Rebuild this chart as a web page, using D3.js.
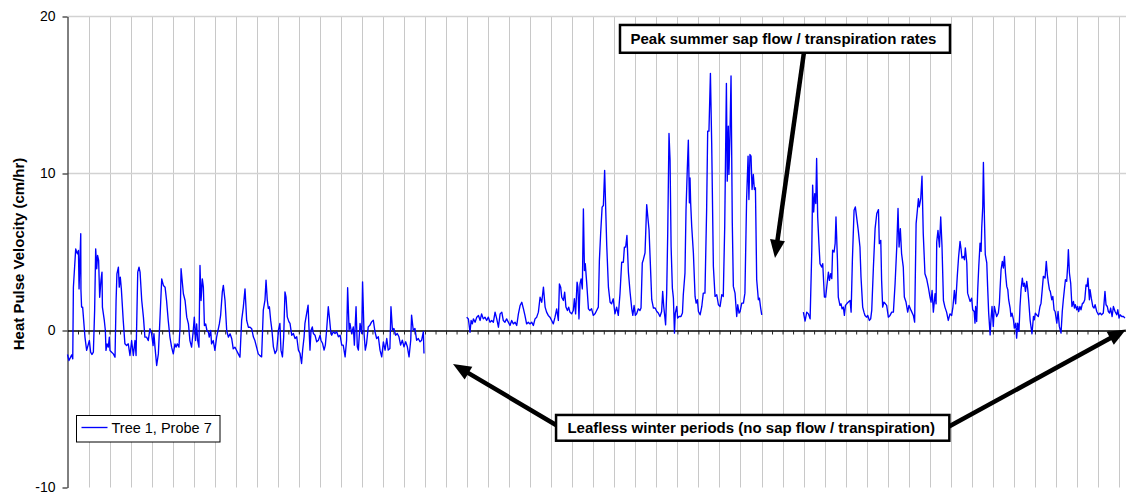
<!DOCTYPE html>
<html lang="en">

<head>
    <meta charset="UTF-8">
    <title>Heat pulse velocity</title>
    <script src="https://d3js.org/d3.v7.min.js"></script>
    <style>
        body { margin: 0; background: #fff; }
        text { font-family: "Liberation Sans", Arial, sans-serif; }
    </style>
</head>

<body>
    <script>
        // days since start of record, heat pulse velocity (cm/hr)
        var winterDay = [0.00, 0.07, 0.20, 0.25, 0.28, 0.39, 0.47, 0.52, 0.55, 0.63, 0.64, 0.67, 0.72, 0.83, 0.91, 1.04, 1.10, 1.16, 1.23, 1.29,
            1.34, 1.39, 1.43, 1.48, 1.53, 1.59, 1.64, 1.66, 1.75, 1.80, 1.83, 1.88, 1.94, 1.99, 2.02, 2.10, 2.18, 2.26, 2.31, 2.35,
            2.42, 2.46, 2.51, 2.56, 2.65, 2.73, 2.81, 2.89, 2.97, 3.05, 3.13, 3.21, 3.26, 3.34, 3.40, 3.45, 3.53, 3.61, 3.68, 3.76,
            3.84, 3.92, 4.00, 4.07, 4.11, 4.16, 4.24, 4.32, 4.40, 4.48, 4.56, 4.64, 4.71, 4.79, 4.87, 4.95, 5.03, 5.11, 5.16, 5.22,
            5.30, 5.35, 5.40, 5.51, 5.59, 5.67, 5.75, 5.82, 5.90, 5.98, 6.03, 6.09, 6.14, 6.19, 6.25, 6.30, 6.35, 6.41, 6.46, 6.51,
            6.57, 6.63, 6.70, 6.74, 6.81, 6.85, 6.93, 7.01, 7.09, 7.22, 7.28, 7.36, 7.41, 7.49, 7.57, 7.65, 7.73, 7.81, 7.88, 7.96,
            8.04, 8.12, 8.20, 8.28, 8.36, 8.44, 8.52, 8.60, 8.68, 8.76, 8.84, 8.91, 8.99, 9.07, 9.15, 9.23, 9.31, 9.39, 9.44, 9.50,
            9.55, 9.60, 9.66, 9.72, 9.79, 9.87, 9.95, 10.03, 10.10, 10.15, 10.22, 10.28, 10.34, 10.39, 10.45, 10.53, 10.58, 10.66, 10.74, 10.82,
            10.90, 10.98, 11.06, 11.13, 11.18, 11.25, 11.29, 11.37, 11.44, 11.48, 11.53, 11.58, 11.64, 11.69, 11.77, 11.85, 11.93, 12.01, 12.05, 12.13,
            12.20, 12.26, 12.32, 12.40, 12.45, 12.51, 12.56, 12.64, 12.72, 12.80, 12.88, 12.96, 13.04, 13.11, 13.20, 13.27, 13.32, 13.39, 13.43, 13.51,
            13.59, 13.64, 13.72, 13.78, 13.83, 13.91, 13.99, 14.03, 14.10, 14.16, 14.22, 14.30, 14.38, 14.46, 14.54, 14.62, 14.70, 14.78, 14.86, 14.94,
            15.02, 15.10, 15.18, 15.25, 15.33, 15.38, 15.45, 15.52, 15.60, 15.68, 15.76, 15.84, 15.92, 16.00, 16.08, 16.16, 16.24, 16.32, 16.36, 16.44,
            16.52, 16.60, 16.68, 16.76, 16.84, 16.92, 16.95];
        var winterVel = [-1.53, -1.91, -1.55, -1.80, 2.76, 5.20, 4.88, 5.10, 2.65, 6.16, 2.55, 1.49, 1.49, -0.42, -1.27, -0.64, -1.38, -1.53, -1.38, 1.27,
            5.20, 3.93, 4.78, 4.46, 2.12, 3.18, 3.72, 1.49, 0.64, 0.00, -1.27, -0.85, -1.06, -0.42, -1.27, -1.38, -1.49, -1.70, 1.91, 3.61,
            4.03, 2.76, 3.40, 2.65, 0.64, -0.85, -0.96, -0.85, -1.59, -0.64, -1.59, -0.64, -1.59, 3.72, 4.03, 3.72, 1.91, 0.85, -0.42, -0.42,
            -0.64, 0.11, -0.21, -0.96, -0.21, -1.06, -2.23, -1.49, 0.85, 3.29, 2.87, 2.76, 1.91, 0.64, -0.42, -1.06, -1.49, -0.85, -1.06, -0.85,
            -1.06, 0.21, 3.93, 2.34, 1.91, 0.85, 0.42, -0.64, -1.06, 0.00, 0.85, -0.64, 0.42, -0.64, -1.06, 4.14, 1.91, 3.29, 2.76, 0.32,
            0.42, 0.00, -0.11, -0.42, 0.00, -0.85, -0.64, -1.27, -0.42, 0.42, 0.96, 2.44, 2.87, 1.91, 0.00, -0.42, -0.21, -0.53, -1.17, -1.06,
            -1.27, -1.49, -1.70, 0.64, 1.49, 2.65, 0.64, 0.21, 0.21, 0.11, -0.42, -0.64, -1.06, -1.49, -1.60, -1.68, 1.30, 1.93, 3.21, 1.93,
            1.40, 1.51, 0.66, 0.02, -1.04, -1.47, -1.25, 0.02, 0.45, -1.25, -1.68, -0.40, 2.46, 2.14, 0.87, 0.55, 0.45, -0.30, -0.19, -0.51,
            -0.40, -1.25, -1.47, -2.10, -1.25, -0.40, 0.45, 1.08, 1.61, 0.23, -1.25, 0.02, 0.23, -0.19, -0.30, -0.72, -0.62, -0.30, -0.62, -0.83,
            -1.25, -0.93, 0.02, 1.51, 0.87, 0.02, -0.30, -0.08, -0.19, -0.08, -0.40, -0.30, -0.93, -0.93, -1.68, -0.62, 2.72, 0.02, 0.45, -0.19,
            0.23, -0.93, 1.51, -1.04, -1.25, 0.45, -0.19, 3.10, -0.19, -1.25, -0.83, 0.23, 0.34, 0.55, 0.66, -0.08, -0.51, -0.40, -1.25, -1.68,
            -0.72, -1.25, -0.51, -1.25, -1.15, 1.51, 0.02, 0.13, -0.30, -0.19, -0.40, -0.93, -0.62, -1.04, -0.72, -1.04, -1.68, -0.62, 0.98, 0.02,
            0.13, -0.62, -0.51, -0.72, -0.62, -0.08, -1.47];

        var springDay = [18.98, 19.06, 19.14, 19.19, 19.25, 19.30, 19.38, 19.46, 19.54, 19.62, 19.69, 19.77, 19.85, 19.93, 20.01, 20.09, 20.17, 20.25, 20.33, 20.41,
            20.49, 20.57, 20.65, 20.72, 20.80, 20.88, 20.96, 21.04, 21.12, 21.20, 21.28, 21.36, 21.44, 21.52, 21.60, 21.68, 21.75, 21.83, 21.91, 21.99,
            22.07, 22.15, 22.23, 22.31, 22.39, 22.47, 22.55, 22.63, 22.71, 22.78, 22.86, 22.94, 23.02, 23.10, 23.18, 23.26, 23.34, 23.39, 23.45, 23.50,
            23.58, 23.64, 23.70, 23.77, 23.83, 23.89, 23.97, 24.05, 24.10, 24.16, 24.23, 24.27, 24.32, 24.37, 24.42, 24.48, 24.53, 24.58, 24.62, 24.69,
            24.77, 24.84, 24.92, 25.00, 25.08, 25.16, 25.24, 25.29, 25.35, 25.42, 25.48, 25.54, 25.64, 25.72, 25.80, 25.87, 25.95, 26.03, 26.11, 26.19,
            26.27, 26.35, 26.43, 26.48, 26.54, 26.60, 26.67, 26.75, 26.83, 26.88, 26.94, 27.00, 27.06, 27.14, 27.22, 27.27, 27.33, 27.38, 27.46, 27.54,
            27.59, 27.65, 27.70, 27.78, 27.86, 27.94, 28.02, 28.09, 28.17, 28.25, 28.30, 28.35, 28.40, 28.44, 28.49, 28.54, 28.60, 28.65, 28.70, 28.76,
            28.81, 28.86, 28.90, 28.97, 29.01, 29.08, 29.17, 29.24, 29.28, 29.36, 29.41, 29.47, 29.52, 29.57, 29.60, 29.63, 29.68, 29.76, 29.84, 29.89,
            29.95, 30.00, 30.08, 30.16, 30.23, 30.31, 30.39, 30.44, 30.50, 30.57, 30.63, 30.71, 30.79, 30.87, 30.95, 31.03, 31.11, 31.18, 31.25, 31.33,
            31.37, 31.42, 31.45, 31.50, 31.55, 31.61, 31.66, 31.74, 31.82, 31.87, 31.93, 31.98, 32.06, 32.14, 32.21, 32.29, 32.36, 32.40, 32.45, 32.50,
            32.55, 32.61, 32.66, 32.71, 32.77, 32.85, 32.90, 32.96, 33.01];
        var springVel = [0.85, 0.74, -0.11, 0.64, 0.42, 0.74, 0.53, 0.85, 0.96, 0.64, 1.06, 0.74, 0.85, 0.64, 0.85, 0.53, 0.64, 0.53, 1.17, 0.74,
            0.21, 1.06, 1.17, 0.64, 0.53, 0.74, 0.53, 0.32, 0.64, 0.42, 0.53, 0.32, 1.06, 1.59, 1.80, 1.38, 0.96, 0.42, 0.53, 0.42,
            0.53, 0.32, 0.74, 0.85, 1.17, 2.12, 1.80, 2.76, 1.49, 1.17, 0.96, 0.85, 0.64, 0.42, 0.85, 1.38, 0.64, 2.97, 2.76, 2.12,
            1.91, 2.44, 1.49, 1.27, 1.49, 1.17, 1.06, 1.27, 2.02, 1.06, 3.08, 2.76, 0.74, 2.97, 3.29, 2.65, 7.75, 3.82, 4.25, 2.97,
            1.38, 1.27, 1.38, 0.96, 1.06, 1.27, 1.49, 4.46, 6.16, 7.86, 7.96, 10.20, 5.41, 2.76, 1.80, 1.70, 2.02, 1.06, 1.49, 0.96,
            2.34, 4.35, 4.35, 5.31, 5.31, 6.05, 3.72, 2.44, 1.38, 0.96, 1.59, 0.96, 1.06, 1.38, 1.27, 1.43, 4.30, 4.51, 4.94, 8.02,
            7.28, 6.43, 4.72, 1.96, 1.43, 1.43, 1.21, 1.11, 0.89, 1.21, 2.49, 1.53, 0.89, 0.36, 2.38, 6.21, 12.55, 10.89, 5.36, 2.70,
            2.06, -0.17, 1.11, 1.53, 0.79, 0.89, 0.89, 1.11, 2.28, 3.66, 7.70, 10.26, 12.13, 8.13, 9.72, 8.13, 6.64, 4.94, 2.17, 1.74,
            1.96, 1.21, 1.00, 1.53, 2.38, 2.38, 7.70, 12.70, 12.70, 16.38, 11.96, 4.09, 2.17, 2.28, 1.64, 1.53, 2.28, 2.17, 6.64, 15.74,
            9.51, 13.02, 9.94, 12.49, 16.21, 6.85, 2.81, 2.38, 0.89, 1.64, 1.11, 1.21, 1.74, 1.74, 2.38, 8.34, 11.11, 8.34, 11.21, 11.11,
            8.98, 9.94, 8.98, 9.09, 3.23, 1.96, 2.06, 1.43, 1.00];

        var summerDay = [34.99, 35.07, 35.15, 35.23, 35.31, 35.39, 35.43, 35.48, 35.53, 35.58, 35.62, 35.67, 35.73, 35.78, 35.86, 35.91, 35.99, 36.05, 36.10, 36.18,
            36.23, 36.29, 36.34, 36.38, 36.45, 36.50, 36.54, 36.61, 36.65, 36.73, 36.78, 36.83, 36.89, 36.94, 36.99, 37.05, 37.13, 37.21, 37.26, 37.32,
            37.40, 37.46, 37.53, 37.60, 37.68, 37.73, 37.81, 37.87, 37.92, 38.00, 38.05, 38.13, 38.19, 38.24, 38.32, 38.40, 38.48, 38.56, 38.60, 38.67,
            38.71, 38.76, 38.82, 38.89, 38.95, 39.03, 39.11, 39.19, 39.27, 39.35, 39.43, 39.49, 39.54, 39.60, 39.66, 39.74, 39.79, 39.87, 39.95, 40.01,
            40.11, 40.22, 40.28, 40.35, 40.41, 40.46, 40.50, 40.57, 40.63, 40.69, 40.77, 40.85, 40.93, 41.01, 41.06, 41.11, 41.17, 41.25, 41.30, 41.33,
            41.39, 41.46, 41.52, 41.58, 41.65, 41.72, 41.80, 41.88, 41.96, 42.04, 42.10, 42.17, 42.23, 42.31, 42.37, 42.44, 42.49, 42.53, 42.60, 42.65,
            42.69, 42.76, 42.80, 42.87, 42.92, 42.99, 43.04, 43.11, 43.15, 43.18, 43.23, 43.28, 43.33, 43.39, 43.44, 43.47, 43.52, 43.55, 43.60, 43.64,
            43.71, 43.75, 43.80, 43.87, 43.91, 43.96, 44.02, 44.07, 44.14, 44.18, 44.26, 44.31, 44.34, 44.39, 44.45, 44.50, 44.55, 44.60, 44.66, 44.71,
            44.75, 44.82, 44.86, 44.91, 44.98, 45.02, 45.09, 45.13, 45.18, 45.24, 45.29, 45.34, 45.40, 45.45, 45.50, 45.55, 45.61, 45.66, 45.70, 45.77,
            45.81, 45.86, 45.93, 45.97, 46.02, 46.08, 46.16, 46.24, 46.29, 46.34, 46.40, 46.48, 46.54, 46.59, 46.64, 46.69, 46.73, 46.80, 46.85, 46.91,
            46.96, 47.04, 47.10, 47.16, 47.24, 47.30, 47.35, 47.40, 47.45, 47.51, 47.56, 47.59, 47.64, 47.70, 47.76, 47.83, 47.88, 47.92, 47.99, 48.03,
            48.08, 48.14, 48.19, 48.26, 48.30, 48.37, 48.43, 48.48, 48.52, 48.59, 48.62, 48.68, 48.75, 48.81, 48.86, 48.94, 49.02, 49.10, 49.17, 49.25,
            49.33, 49.38, 49.44, 49.49, 49.55, 49.60, 49.67, 49.73, 49.81, 49.89, 49.94, 50.00, 50.05, 50.13, 50.21, 50.28];
        var summerVel = [1.17, 0.60, 1.17, 1.06, 0.74, 5.11, 9.26, 7.55, 8.72, 8.09, 10.96, 7.23, 5.53, 4.26, 4.04, 4.26, 2.13, 2.13, 2.77, 3.72,
            3.19, 3.62, 3.30, 5.11, 5.00, 5.53, 7.23, 4.47, 2.13, 1.60, 1.70, 1.38, 1.49, 0.96, 1.60, 1.70, 1.81, 1.91, 1.17, 4.47,
            7.66, 7.87, 7.13, 6.38, 5.32, 3.40, 1.49, 1.17, 0.96, 0.85, 0.96, 0.64, 0.74, 1.28, 4.04, 6.49, 7.45, 7.70, 5.53, 5.74,
            3.19, 1.49, 1.81, 1.70, 1.60, 0.85, 0.96, 1.17, 1.17, 2.98, 5.32, 7.77, 5.32, 6.49, 4.89, 4.04, 2.13, 1.81, 1.17, 1.60,
            1.28, 0.96, 0.53, 6.81, 7.66, 8.40, 7.87, 8.40, 9.83, 6.17, 3.62, 3.30, 2.77, 2.13, 1.81, 2.55, 1.17, 2.34, 1.70, 5.64,
            6.38, 5.32, 7.23, 5.43, 1.91, 1.49, 1.17, 0.64, 1.06, 0.96, 1.49, 2.55, 1.70, 3.51, 4.68, 5.68, 5.15, 4.62, 4.72, 4.51,
            5.26, 4.30, 2.38, 2.06, 1.85, 2.06, 1.32, 1.21, 0.47, 1.53, 0.57, 2.60, 4.09, 5.57, 5.04, 6.53, 7.91, 10.70, 7.06, 4.83,
            4.30, 2.81, 1.11, -0.28, 0.68, 1.53, 0.26, 1.53, 1.11, 0.89, 1.11, 1.74, 2.60, 3.87, 4.40, 3.98, 4.72, 3.66, 2.81, 2.60,
            1.96, 1.43, 0.89, 1.11, 0.68, 0.15, 0.47, -0.49, 0.47, -0.06, 1.53, 2.60, 3.34, 2.81, 3.02, 2.49, 3.13, 2.60, 1.96, 0.68,
            0.26, -0.21, 0.89, 0.68, 1.11, 1.00, 0.89, 1.53, 1.74, 2.49, 3.45, 3.34, 4.40, 3.55, 3.02, 2.60, 2.49, 1.96, 2.17, 1.32,
            1.21, 0.47, 1.21, 0.26, -0.17, 1.21, 1.96, 2.60, 3.23, 3.13, 4.19, 5.15, 3.66, 3.02, 1.53, 1.85, 1.43, 1.64, 1.32, 1.53,
            1.21, 1.53, 1.32, 1.74, 1.74, 1.96, 2.91, 2.81, 3.34, 1.96, 2.60, 2.06, 1.53, 1.43, 1.64, 1.21, 1.00, 1.11, 1.00, 1.11,
            2.49, 1.64, 1.53, 1.21, 1.11, 1.43, 0.89, 1.53, 1.21, 1.00, 1.32, 0.79, 1.00, 0.89, 0.89, 0.79];

        var yTicks = [-10, 0, 10, 20];
        var seriesName = "Tree 1, Probe 7";

        var width = 1126;
        var height = 492;

        var svg = d3.select("body")
            .append("svg")
            .attr("width", width)
            .attr("height", height);

        var x = d3.scaleLinear().domain([0, 50.33]).range([67.5, 1126]);
        var y = d3.scaleLinear().domain([-10, 20]).range([487.5, 16.5]);

        // vertical grid: one line per day
        svg.append("g")
            .selectAll("line")
            .data(d3.range(1, 51))
            .enter()
            .append("line")
            .attr("x1", d => Math.round(x(d)) + 0.5)
            .attr("x2", d => Math.round(x(d)) + 0.5)
            .attr("y1", y(20))
            .attr("y2", y(-10))
            .attr("stroke", "#c8c8c8");

        // horizontal grid
        svg.append("g")
            .selectAll("line")
            .data([10, 20])
            .enter()
            .append("line")
            .attr("x1", x(0))
            .attr("x2", width)
            .attr("y1", d => y(d))
            .attr("y2", d => y(d))
            .attr("stroke", "#d2d2d2")
            .attr("stroke-width", 1.5);

        // y axis
        var yAxis = svg.append("g")
            .attr("transform", "translate(" + x(0) + ",0)")
            .call(d3.axisLeft(y).tickValues(yTicks).tickSize(5).tickSizeOuter(0).tickPadding(7)
                .tickFormat(d => String(d)));
        yAxis.selectAll("text")
            .attr("font-size", 14)
            .attr("font-family", "'Liberation Sans', Arial, sans-serif")
            .attr("fill", "#000");
        yAxis.select(".domain").attr("stroke", "#000");

        // x axis along zero, half-day ticks, no labels
        var xAxis = svg.append("g")
            .attr("transform", "translate(0," + y(0) + ")")
            .call(d3.axisBottom(x).tickValues(d3.range(0.5, 50.5, 0.5)).tickSize(4).tickSizeOuter(0).tickFormat(""));
        xAxis.select(".domain").attr("stroke", "#000").attr("stroke-width", 1.3);
        xAxis.selectAll(".tick line").attr("stroke", "#222");

        svg.append("text")
            .attr("transform", "translate(23.5,254) rotate(-90)")
            .attr("text-anchor", "middle")
            .attr("font-size", 15)
            .attr("font-weight", "bold")
            .text("Heat Pulse Velocity (cm/hr)");

        // the three logged periods
        var line = d3.line()
            .x(d => x(d[0]))
            .y(d => y(d[1]));

        var segments = [
            d3.zip(winterDay, winterVel),
            d3.zip(springDay, springVel),
            d3.zip(summerDay, summerVel)
        ];

        svg.append("g")
            .selectAll("path")
            .data(segments)
            .enter()
            .append("path")
            .attr("d", line)
            .attr("fill", "none")
            .attr("stroke", "#0000ff")
            .attr("stroke-width", 1.35)
            .attr("stroke-linejoin", "round");

        // legend
        var legend = svg.append("g");
        legend.append("rect")
            .attr("x", 76.5).attr("y", 415.5)
            .attr("width", 143.5).attr("height", 26.5)
            .attr("fill", "#fff")
            .attr("stroke", "#000");
        legend.append("line")
            .attr("x1", 81.5).attr("x2", 107.5)
            .attr("y1", 427.5).attr("y2", 427.5)
            .attr("stroke", "#0000ff")
            .attr("stroke-width", 1.35);
        legend.append("text")
            .attr("x", 111.5).attr("y", 432.5)
            .attr("font-size", 14.5)
            .text(seriesName);

        // callouts (positions in day / cm/hr units)
        var callouts = [
            { text: "Peak summer sap flow / transpiration rates", x0: 26.27, x1: 41.96, y0: 19.46, y1: 17.69 },
            { text: "Leafless winter periods (no sap flow / transpiration)", x0: 23.23, x1: 41.93, y0: -5.38, y1: -7.02 }
        ];
        var arrows = [
            { from: [35.02, 17.74], to: [33.64, 4.62] },
            { from: [23.23, -6.02], to: [18.33, -2.13] },
            { from: [41.87, -6.15], to: [50.33, 0.06] }
        ];

        arrows.forEach(function (a) {
            var sx = x(a.from[0]), sy = y(a.from[1]);
            var tx = x(a.to[0]), ty = y(a.to[1]);
            var len = Math.hypot(tx - sx, ty - sy);
            var ux = (tx - sx) / len, uy = (ty - sy) / len;
            var headLen = 18, headHalf = 7.5;
            var bx = tx - ux * headLen, by = ty - uy * headLen;
            svg.append("line")
                .attr("x1", sx).attr("y1", sy)
                .attr("x2", bx + ux * 2).attr("y2", by + uy * 2)
                .attr("stroke", "#000")
                .attr("stroke-width", 4.5);
            svg.append("path")
                .attr("d", "M" + tx + "," + ty +
                    "L" + (bx - uy * headHalf) + "," + (by + ux * headHalf) +
                    "L" + (bx + uy * headHalf) + "," + (by - ux * headHalf) + "Z")
                .attr("fill", "#000");
        });

        var boxes = svg.selectAll("g.callout")
            .data(callouts)
            .enter()
            .append("g")
            .attr("class", "callout");
        boxes.append("rect")
            .attr("x", d => x(d.x0))
            .attr("y", d => y(d.y0))
            .attr("width", d => x(d.x1) - x(d.x0))
            .attr("height", d => y(d.y1) - y(d.y0))
            .attr("fill", "#fff")
            .attr("stroke", "#000")
            .attr("stroke-width", 2.5);
        boxes.append("text")
            .attr("x", d => (x(d.x0) + x(d.x1)) / 2 - 1.5)
            .attr("y", d => (y(d.y0) + y(d.y1)) / 2 + 5.3)
            .attr("text-anchor", "middle")
            .attr("font-size", 15)
            .attr("font-weight", "bold")
            .text(d => d.text);
    </script>
</body>

</html>
